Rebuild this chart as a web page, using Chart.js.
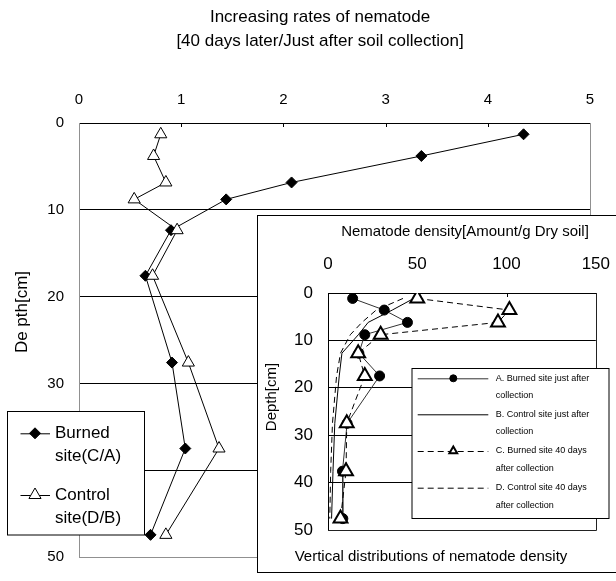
<!DOCTYPE html>
<html>
<head>
<meta charset="utf-8">
<script src="https://cdn.jsdelivr.net/npm/chart.js@4/dist/chart.umd.min.js"></script>
<style>
  html, body { margin: 0; padding: 0; width: 616px; height: 581px; overflow: hidden; background: #fff; }
  #main { position: absolute; left: 0; top: 0; }
  #insetBox { position: absolute; left: 257px; top: 215px; border: 1px solid #000; background: #fff; width: 370px; height: 356px; }
  #insetBox canvas { display: block; }
</style>
</head>
<body>
<canvas id="main" width="616" height="581"></canvas>
<div id="insetBox"><canvas id="inset" width="370" height="356"></canvas></div>
<script>
// main chart: increasing rate (40 days later / just after), by depth
const depthMain = [1.3, 3.8, 6.85, 8.8, 12.35, 17.6, 27.6, 37.5, 47.45];
const burnedRate = [4.35, 3.35, 2.08, 1.44, 0.90, 0.65, 0.91, 1.04, 0.70];
const controlRate = [0.80, 0.73, 0.85, 0.54, 0.96, 0.72, 1.07, 1.37, 0.85];
const rateTicks = [0, 1, 2, 3, 4, 5];
const depthTicks = [0, 10, 20, 30, 40, 50];

// inset chart: nematode density, by depth
const depthInset = [1.15, 3.6, 6.2, 8.8, 12.7, 17.5, 27.5, 37.6, 47.6];
const burnedJustAfter = [13.8, 31.5, 44.5, 20.6, 17.3, 28.9, 10.7, 8.1, 8.3];
const controlJustAfter = [48, 36, 22.5, 17, 7.8, 6.3, 3.8, 2.8, 2.0];
const burned40Days = [50, 101.6, 95.2, 29.5, 16.9, 20.6, 10.5, 10.1, 7.0];
const control40Days = [42, 27, 19, 12.5, 7.0, 4.8, 2.5, 1.5, 1.0];
const densityTicks = [0, 50, 100, 150];

const FONT = '"Liberation Sans", Arial, sans-serif';
Chart.defaults.font.family = FONT;
Chart.defaults.color = '#000';

function pts(values, depths) {
  return values.map((v, i) => ({ x: v, y: depths[i] }));
}

function marker(ctx, style, x, y, r, fill, stroke, lw) {
  if (!style || r <= 0) return;
  ctx.save();
  ctx.beginPath();
  if (style === 'rectRot') {
    ctx.moveTo(x - r, y); ctx.lineTo(x, y - r); ctx.lineTo(x + r, y); ctx.lineTo(x, y + r);
  } else if (style === 'triangle') {
    for (let k = 0; k < 3; k++) {
      const a = k * 2 * Math.PI / 3;
      const px = x + Math.sin(a) * r, py = y - Math.cos(a) * r;
      k ? ctx.lineTo(px, py) : ctx.moveTo(px, py);
    }
  } else {
    ctx.arc(x, y, r, 0, Math.PI * 2);
  }
  ctx.closePath();
  ctx.fillStyle = fill; ctx.fill();
  ctx.lineWidth = lw; ctx.strokeStyle = stroke; ctx.stroke();
  ctx.restore();
}

// free text (titles) at fixed spots
const textPlugin = {
  id: 'texts',
  afterDraw(chart, args, opts) {
    const ctx = chart.ctx;
    (opts.items || []).forEach(t => {
      ctx.save();
      ctx.font = t.font;
      ctx.fillStyle = '#000';
      ctx.textAlign = t.align || 'center';
      ctx.textBaseline = 'middle';
      ctx.translate(t.x, t.y);
      if (t.rotate) ctx.rotate(t.rotate);
      ctx.fillText(t.text, 0, 0);
      ctx.restore();
    });
  }
};

// right / bottom edge of plot area and inward ticks on the top axis
const framePlugin = {
  id: 'frame',
  beforeDatasetsDraw(chart, args, opts) {
    const { ctx, chartArea: a, scales: { x } } = chart;
    const r = Math.round(a.right) + 0.5, b = Math.round(a.bottom) + 0.5, t = Math.round(a.top);
    ctx.save();
    ctx.lineWidth = 1;
    ctx.strokeStyle = opts.color;
    ctx.beginPath();
    ctx.moveTo(r, t); ctx.lineTo(r, b); ctx.lineTo(Math.round(a.left), b);
    ctx.stroke();
    ctx.strokeStyle = '#000';
    ctx.beginPath();
    (opts.ticks || []).forEach(v => {
      const px = Math.round(x.getPixelForValue(v)) + 0.5;
      ctx.moveTo(px, t); ctx.lineTo(px, t + opts.len);
    });
    ctx.stroke();
    ctx.restore();
  }
};

// boxed legend placed inside the chart
const boxLegendPlugin = {
  id: 'boxLegend',
  afterDraw(chart, args, o) {
    const ctx = chart.ctx;
    const [bx, by, bw, bh] = o.box;
    ctx.save();
    ctx.fillStyle = '#fff';
    ctx.fillRect(bx, by, bw, bh);
    ctx.strokeStyle = '#000';
    ctx.lineWidth = 1;
    ctx.strokeRect(bx, by, bw, bh);
    o.rows.forEach(row => {
      const ds = chart.data.datasets[row.ds];
      ctx.save();
      ctx.strokeStyle = ds.borderColor;
      ctx.lineWidth = ds.borderWidth;
      ctx.setLineDash(ds.borderDash || []);
      ctx.beginPath();
      ctx.moveTo(o.lineX[0], row.y + 0.5);
      ctx.lineTo(o.lineX[1], row.y + 0.5);
      ctx.stroke();
      ctx.restore();
      if (ds.pointRadius) {
        marker(ctx, ds.pointStyle, o.markerX, row.y, row.r || ds.pointRadius,
          ds.pointBackgroundColor, ds.pointBorderColor, row.lw || ds.pointBorderWidth || 1);
      }
      ctx.fillStyle = '#000';
      ctx.font = o.font;
      ctx.textAlign = 'left';
      ctx.textBaseline = 'middle';
      row.lines.forEach((s, i) => ctx.fillText(s, o.textX, row.y + i * o.lineGap));
    });
    ctx.restore();
  }
};

function gridColor(c) {
  return c.tick && c.tick.value > 0 && c.tick.value < 50 ? '#000' : 'rgba(0,0,0,0)';
}

new Chart(document.getElementById('main'), {
  type: 'scatter',
  data: {
    datasets: [
      {
        label: 'Burned site(C/A)',
        data: pts(burnedRate, depthMain),
        showLine: true,
        borderColor: '#000',
        borderWidth: 1,
        pointStyle: 'rectRot',
        pointRadius: 5.5,
        pointBackgroundColor: '#000',
        pointBorderColor: '#000',
        pointBorderWidth: 1,
        order: 1
      },
      {
        label: 'Control site(D/B)',
        data: pts(controlRate, depthMain),
        showLine: true,
        borderColor: '#000',
        borderWidth: 1,
        pointStyle: 'triangle',
        pointRadius: 7,
        pointBackgroundColor: '#fff',
        pointBorderColor: '#000',
        pointBorderWidth: 1,
        order: 0
      }
    ]
  },
  options: {
    responsive: false,
    animation: false,
    events: [],
    layout: { padding: { left: 0, top: 0, right: 26, bottom: 11 } },
    scales: {
      x: {
        type: 'linear',
        position: 'top',
        min: 0,
        max: 5,
        afterBuildTicks: s => { s.ticks = rateTicks.map(v => ({ value: v })); },
        afterFit: s => { s.height = 123; },
        grid: { display: false, drawTicks: false },
        border: { color: '#000', width: 1 },
        ticks: { padding: 14, maxRotation: 0, font: { size: 15 } }
      },
      y: {
        type: 'linear',
        reverse: true,
        min: 0,
        max: 50,
        afterBuildTicks: s => { s.ticks = depthTicks.map(v => ({ value: v })); },
        afterFit: s => { s.width = 79; },
        grid: { color: gridColor, lineWidth: 1, drawTicks: false },
        border: { color: '#909090', width: 1 },
        ticks: { padding: 15, font: { size: 15 } }
      }
    },
    plugins: {
      legend: { display: false },
      tooltip: { enabled: false },
      frame: { color: '#909090', ticks: [1, 2, 3, 4], len: 4 },
      texts: {
        items: [
          { text: 'Increasing rates of nematode', x: 320, y: 17, font: '17px ' + FONT },
          { text: '[40 days later/Just after soil collection]', x: 320, y: 41, font: '17px ' + FONT },
          { text: 'De pth[cm]', x: 22, y: 312, rotate: -Math.PI / 2, font: '17px ' + FONT }
        ]
      },
      boxLegend: {
        box: [7.5, 411.5, 137, 123.5],
        lineX: [20.5, 50],
        markerX: 35,
        textX: 55,
        font: '17px ' + FONT,
        lineGap: 23.4,
        rows: [
          { ds: 0, y: 433.3, lines: ['Burned', 'site(C/A)'] },
          { ds: 1, y: 495, lines: ['Control', 'site(D/B)'] }
        ]
      }
    }
  },
  plugins: [framePlugin, textPlugin, boxLegendPlugin]
});

new Chart(document.getElementById('inset'), {
  type: 'scatter',
  data: {
    datasets: [
      {
        label: 'A. Burned site just after collection',
        data: pts(burnedJustAfter, depthInset),
        showLine: true,
        borderColor: '#333',
        borderWidth: 1,
        pointStyle: 'circle',
        pointRadius: 5,
        pointBackgroundColor: '#000',
        pointBorderColor: '#000',
        pointBorderWidth: 1,
        order: 1
      },
      {
        label: 'B. Control site just after collection',
        data: pts(controlJustAfter, depthInset),
        showLine: true,
        borderColor: '#000',
        borderWidth: 1,
        pointRadius: 0,
        order: 2
      },
      {
        label: 'C. Burned site 40 days after collection',
        data: pts(burned40Days, depthInset),
        showLine: true,
        borderColor: '#000',
        borderWidth: 1,
        borderDash: [6, 4],
        pointStyle: 'triangle',
        pointRadius: 8,
        pointBackgroundColor: '#fff',
        pointBorderColor: '#000',
        pointBorderWidth: 2,
        order: 0
      },
      {
        label: 'D. Control site 40 days after collection',
        data: pts(control40Days, depthInset),
        showLine: true,
        borderColor: '#000',
        borderWidth: 1,
        borderDash: [6, 4],
        pointRadius: 0,
        order: 3
      }
    ]
  },
  options: {
    responsive: false,
    animation: false,
    events: [],
    layout: { padding: { left: 0, top: 0, right: 29, bottom: 42 } },
    scales: {
      x: {
        type: 'linear',
        position: 'top',
        min: 0,
        max: 150,
        afterBuildTicks: s => { s.ticks = densityTicks.map(v => ({ value: v })); },
        afterFit: s => { s.height = 77; },
        grid: { display: false, drawTicks: false },
        border: { color: '#000', width: 1 },
        ticks: { padding: 18, maxRotation: 0, font: { size: 17 } }
      },
      y: {
        type: 'linear',
        reverse: true,
        min: 0,
        max: 50,
        afterBuildTicks: s => { s.ticks = depthTicks.map(v => ({ value: v })); },
        afterFit: s => { s.width = 70; },
        grid: { color: gridColor, lineWidth: 1, drawTicks: false },
        border: { color: '#000', width: 1 },
        ticks: { padding: 15, font: { size: 17 } }
      }
    },
    plugins: {
      legend: { display: false },
      tooltip: { enabled: false },
      frame: { color: '#222', ticks: [50, 100], len: 4 },
      texts: {
        items: [
          { text: 'Nematode density[Amount/g Dry soil]', x: 207, y: 16, font: '15px ' + FONT },
          { text: 'Depth[cm]', x: 14, y: 181, rotate: -Math.PI / 2, font: '15px ' + FONT },
          { text: 'Vertical distributions of nematode density', x: 173, y: 341, font: '15px ' + FONT }
        ]
      },
      boxLegend: {
        box: [154, 152.5, 197, 150],
        lineX: [159.7, 230.3],
        markerX: 195.3,
        textX: 237.7,
        font: '9px ' + FONT,
        lineGap: 17.7,
        rows: [
          { ds: 0, y: 162.3, r: 3.5, lines: ['A. Burned site just after', 'collection'] },
          { ds: 1, y: 198.3, lines: ['B. Control site just after', 'collection'] },
          { ds: 2, y: 235, r: 4.5, lw: 2, lines: ['C. Burned site 40 days', 'after collection'] },
          { ds: 3, y: 271.7, lines: ['D. Control site 40 days', 'after collection'] }
        ]
      }
    }
  },
  plugins: [framePlugin, textPlugin, boxLegendPlugin]
});
</script>
</body>
</html>
